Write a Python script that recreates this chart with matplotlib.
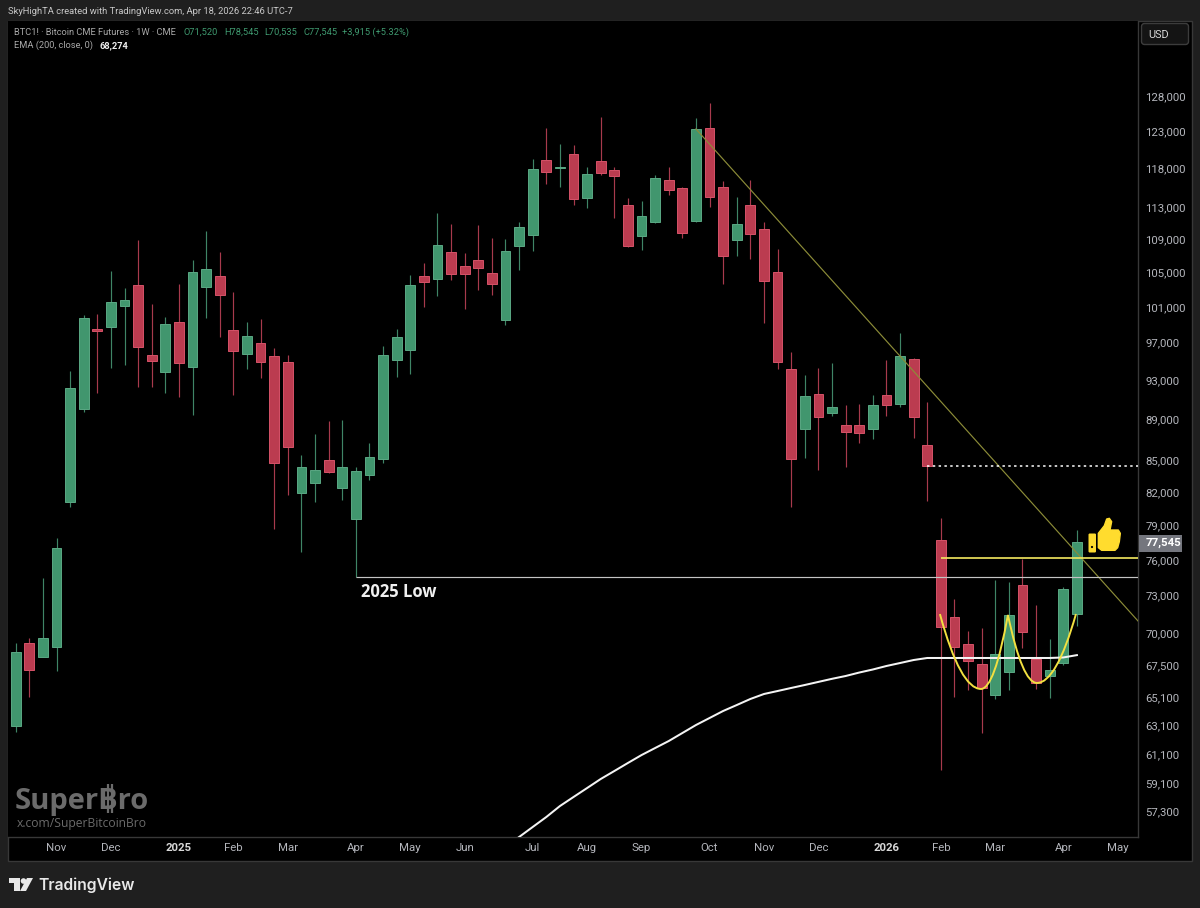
import numpy as np
import matplotlib
matplotlib.use("Agg")
import matplotlib.pyplot as plt
from matplotlib.patches import Rectangle, FancyBboxPatch, Polygon, Circle, PathPatch
from matplotlib.path import Path

plt.rcParams['font.family'] = ['Roboto', 'DejaVu Sans']

# Weekly OHLC values
opens = [63045,69210,68130,68900,81100,90040,98510,98730,101090,103505,95670,93860,99285,94390,103270,104555,98400,95780,96970,95565,
         94920,81925,82850,85025,82385,79565,83600,85120,95135,96215,104555,104205,107410,105740,106455,104910,99510,108140,109490,119120,
         118050,119920,114135,118985,117785,113240,109365,111100,116470,115425,111225,123480,115555,108870,113240,110230,105030,94180,88040,91570,
         89630,88435,88435,88040,91465,90545,95240,86465,77710,71265,69135,67595,65280,66990,73875,67975,66690,67670,71520]
highs = [69210,69600,74460,77885,93970,100070,100185,105145,103155,108870,101315,99845,103620,106455,109980,107410,102690,99285,99620,96430,
         95670,85500,87545,88830,88930,84355,86660,96645,98510,104675,106095,112230,110850,107295,110725,109120,109000,111100,119250,123480,
         121280,121140,118185,125015,118185,114135,113750,117125,118185,115555,124875,127000,116340,114265,116470,111100,107775,96000,93545,94285,
         94815,90445,90545,91465,95135,98065,95350,90750,79655,72720,70150,70390,74290,74125,76065,72230,69520,73710,78545]
lows = [62625,65135,68100,67070,80645,89730,91670,94285,94605,92295,92295,91670,91260,89430,99735,97630,91465,94180,93230,78675,
        81740,76665,81100,83790,81285,74540,83135,84735,93335,93650,100975,102230,104090,100750,102925,102345,98955,105260,107530,115945,
        115555,113240,112860,117125,111600,108020,107650,110975,114520,109120,111150,112985,103620,106935,106575,99175,94180,80645,85215,84070,
        89335,84355,86660,87055,89335,90240,87150,81195,60000,65135,65650,62550,64985,65650,68825,65725,65060,67520,70535]
closes = [68515,67145,69600,77015,92190,99735,98290,101545,101775,96535,95030,99065,94815,105030,105380,102345,96105,97740,94920,84735,
          86275,84355,84070,83885,84355,83975,85310,95670,97630,103505,103850,108265,104790,104790,105500,103620,107530,110475,117920,117520,
          118185,114010,117255,117385,116995,108140,111850,116730,115170,109735,123340,114265,106935,110850,109610,103970,94920,85120,91365,89235,
          90240,87740,87640,90445,90445,95565,89235,84450,70470,68900,67825,65800,68360,71425,70070,66170,67145,73545,77545]

ema_start = 36
ema_values = [55030,55650,56280,56915,57620,58210,58800,59400,59935,60480,61020,61505,61990,62550,63115,63615,64120,64550,64990,65355,
              65575,65800,66020,66250,66480,66690,66950,67180,67445,67670,67900,68055,68055,68055,68055,68055,68055,68055,68055,68055,
              68055,68095,68274]

price_ticks = [128000,123000,118000,113000,109000,105000,101000,97000,93000,89000,85000,82000,79000,76000,73000,70000,67500,65100,63100,61100,59100,57300]
month_pos = [3,7,12,16,20,25,29,33,38,42,46,51,55,59,64,68,72,77,81]
month_labels = ['Nov','Dec','2025','Feb','Mar','Apr','May','Jun','Jul','Aug','Sep','Oct','Nov','Dec','2026','Feb','Mar','Apr','May']

# hand-drawn cup and handle: anchor, control, anchor, ...
cup_x = [67.93,69.44,70.95,71.94,72.93,73.99,75.06,76.49,77.93]
cup_y = [71500,65725,65725,65725,71425,66170,66170,66170,71500]

low_2025 = 74540
resistance = 76150
dotted_level = 84450
trend_x = [50, 82.49]
trend_y = [123340, 70945]

W, H = 1200, 908
fig = plt.figure(figsize=(W/100, H/100), dpi=100, facecolor='#1f1f1f')

# pixel-space background layer
bg = fig.add_axes([0, 0, 1, 1], zorder=0)
bg.set_xlim(0, W); bg.set_ylim(H, 0); bg.axis('off')
bg.add_patch(Rectangle((8, 21), 1184, 840, fc='#000000', ec='#383838', lw=1))

# chart
ax = fig.add_axes([8/W, (H-837)/H, 1130/W, 816/H], zorder=1, facecolor='#000000')
ax.set_yscale('log')
ax.set_xlim(-0.566, 82.49)
ax.set_ylim(55650, 139260)

o, h, l, c = map(np.array, (opens, highs, lows, closes))
x = np.arange(len(o))
up = c >= o
GREEN, GREEN_E, GREEN_W = '#41966e', '#5aa884', '#3f8566'
RED, RED_E, RED_W = '#bb3c50', '#d65268', '#a83a4d'

ax.vlines(x[up], l[up], h[up], color=GREEN_W, lw=0.85, zorder=2)
ax.vlines(x[~up], l[~up], h[~up], color=RED_W, lw=0.85, zorder=2)
bottoms = np.minimum(o, c); tops = np.maximum(o, c)
ax.bar(x[up], (tops-bottoms)[up], bottom=bottoms[up], width=0.72, color=GREEN, edgecolor=GREEN_E, linewidth=0.7, zorder=3)
ax.bar(x[~up], (tops-bottoms)[~up], bottom=bottoms[~up], width=0.72, color=RED, edgecolor=RED_E, linewidth=0.7, zorder=3)

ax.plot(trend_x, trend_y, color='#8c8c38', lw=0.85, zorder=4)
ax.hlines(low_2025, 25, 82.49, color='#c4c4c4', lw=0.85, zorder=4)
ax.hlines(resistance, 68, 82.49, color='#f4ea60', lw=1.2, zorder=5)
ax.plot([67, 82.49], [dotted_level]*2, color='#ffffff', lw=1.1, ls=(0, (1.6, 2.2)), zorder=4)
ax.plot(np.arange(ema_start, ema_start+len(ema_values)), ema_values, color='#f4f4f4', lw=1.45, zorder=5, solid_joinstyle='round')
codes = [Path.MOVETO] + [Path.CURVE3]*(len(cup_x)-1)
ax.add_patch(PathPatch(Path(np.column_stack([cup_x, cup_y]), codes), fc='none', ec='#f2e040', lw=1.4, zorder=6))

ax.text(25.35, 73290, '2025 Low', color='#f0f0f0', fontsize=12, fontweight='bold', family=['Open Sans','DejaVu Sans'], va='center', ha='left', zorder=6)

# axes
for s in ('top', 'left'):
    ax.spines[s].set_visible(False)
for s in ('right', 'bottom'):
    ax.spines[s].set_color('#383838'); ax.spines[s].set_linewidth(1)
ax.yaxis.tick_right()
ax.set_yticks(price_ticks)
ax.set_yticklabels([f'{p:,}' for p in price_ticks])
ax.yaxis.set_minor_locator(matplotlib.ticker.NullLocator())
ax.tick_params(axis='y', length=0, pad=5.2, labelsize=8.2, labelcolor='#b4b6bc')
ax.set_xticks(month_pos)
ax.set_xticklabels(month_labels)
ax.tick_params(axis='x', length=0, pad=4.5, labelsize=8.2, labelcolor='#b4b6bc')
for lab in ax.get_xticklabels():
    if lab.get_text().isdigit():
        lab.set_fontweight('bold'); lab.set_color('#d8d8d8')

# overlay layer in pixel space
top = fig.add_axes([0, 0, 1, 1], zorder=5)
top.set_xlim(0, W); top.set_ylim(H, 0); top.axis('off'); top.patch.set_alpha(0)

top.text(8, 11.5, 'SkyHighTA created with TradingView.com, Apr 18, 2026 22:46 UTC-7', color='#c9c9c9', fontsize=6.75, va='center')
top.text(14, 32.5, 'BTC1! · Bitcoin CME Futures · 1W · CME', color='#a8a8a8', fontsize=6.7, va='center')
GL = '#3f9a70'
for tx, s in [(184,'O71,520'),(224,'H78,545'),(264,'L70,535'),(303,'C77,545'),(342,'+3,915 (+5.32%)')]:
    top.text(tx, 32.5, s, color=GL, fontsize=6.7, va='center')
top.text(14, 45.5, 'EMA (200, close, 0)', color='#a8a8a8', fontsize=6.7, va='center')
top.text(100, 45.5, '68,274', color='#f0f0f0', fontsize=6.7, fontweight='bold', va='center')

# USD button
top.add_patch(FancyBboxPatch((1143, 25), 44, 18, boxstyle='round,pad=1.5,rounding_size=3', fc='#141414', ec='#3c3c3c', lw=1))
top.text(1148, 34.5, 'USD', color='#d8d8d8', fontsize=7.8, va='center')

# last price tag
top.add_patch(Rectangle((1139, 535), 43, 16.5, fc='#74767e', ec='none'))
top.text(1145.5, 543.2, '77,545', color='#ffffff', fontsize=8.2, fontweight='bold', va='center')

# thumb
Y = '#ffdc2e'
top.add_patch(FancyBboxPatch((1089, 534), 6.5, 18, boxstyle='round,pad=0.5,rounding_size=1.2', fc=Y, ec='none'))
top.add_patch(Circle((1092, 547), 1.1, fc='#000000', ec='none'))
hand_x = [70,88,95,103,110,105,130,136,133,128,120,80,70]
hand_y = [85,62,42,40,50,75,75,85,110,128,136,136,128]
top.add_patch(Polygon([(1075+a/3, 505+b/3) for a, b in zip(hand_x, hand_y)], closed=True, fc=Y, ec=Y, lw=1, joinstyle='round'))

# watermark
top.text(15, 809, 'SuperBro', color='#6b6b6b', fontsize=21, fontweight='bold', family=['Open Sans','DejaVu Sans'], va='baseline')
top.vlines([108, 112], 784, 813, color='#6b6b6b', lw=1.6)
top.text(17, 827, 'x.com/SuperBitcoinBro', color='#6b6b6b', fontsize=8.7, family=['Open Sans','DejaVu Sans'], va='baseline')

# TradingView footer
LC = '#e8e8e8'
top.add_patch(Polygon([(9,878),(20,878),(20,891),(14,891),(14,883),(9,883)], closed=True, fc=LC, ec='none'))
top.add_patch(Circle((23.5, 881), 2.8, fc=LC, ec='none'))
top.add_patch(Polygon([(27,878),(33,878),(26,891),(20,891)], closed=True, fc=LC, ec='none'))
top.text(38, 890, 'TradingView', color=LC, fontsize=11.3, fontweight='semibold', family=['Inter','DejaVu Sans'], va='baseline')

fig.savefig('out.png', dpi=100, facecolor=fig.get_facecolor())
